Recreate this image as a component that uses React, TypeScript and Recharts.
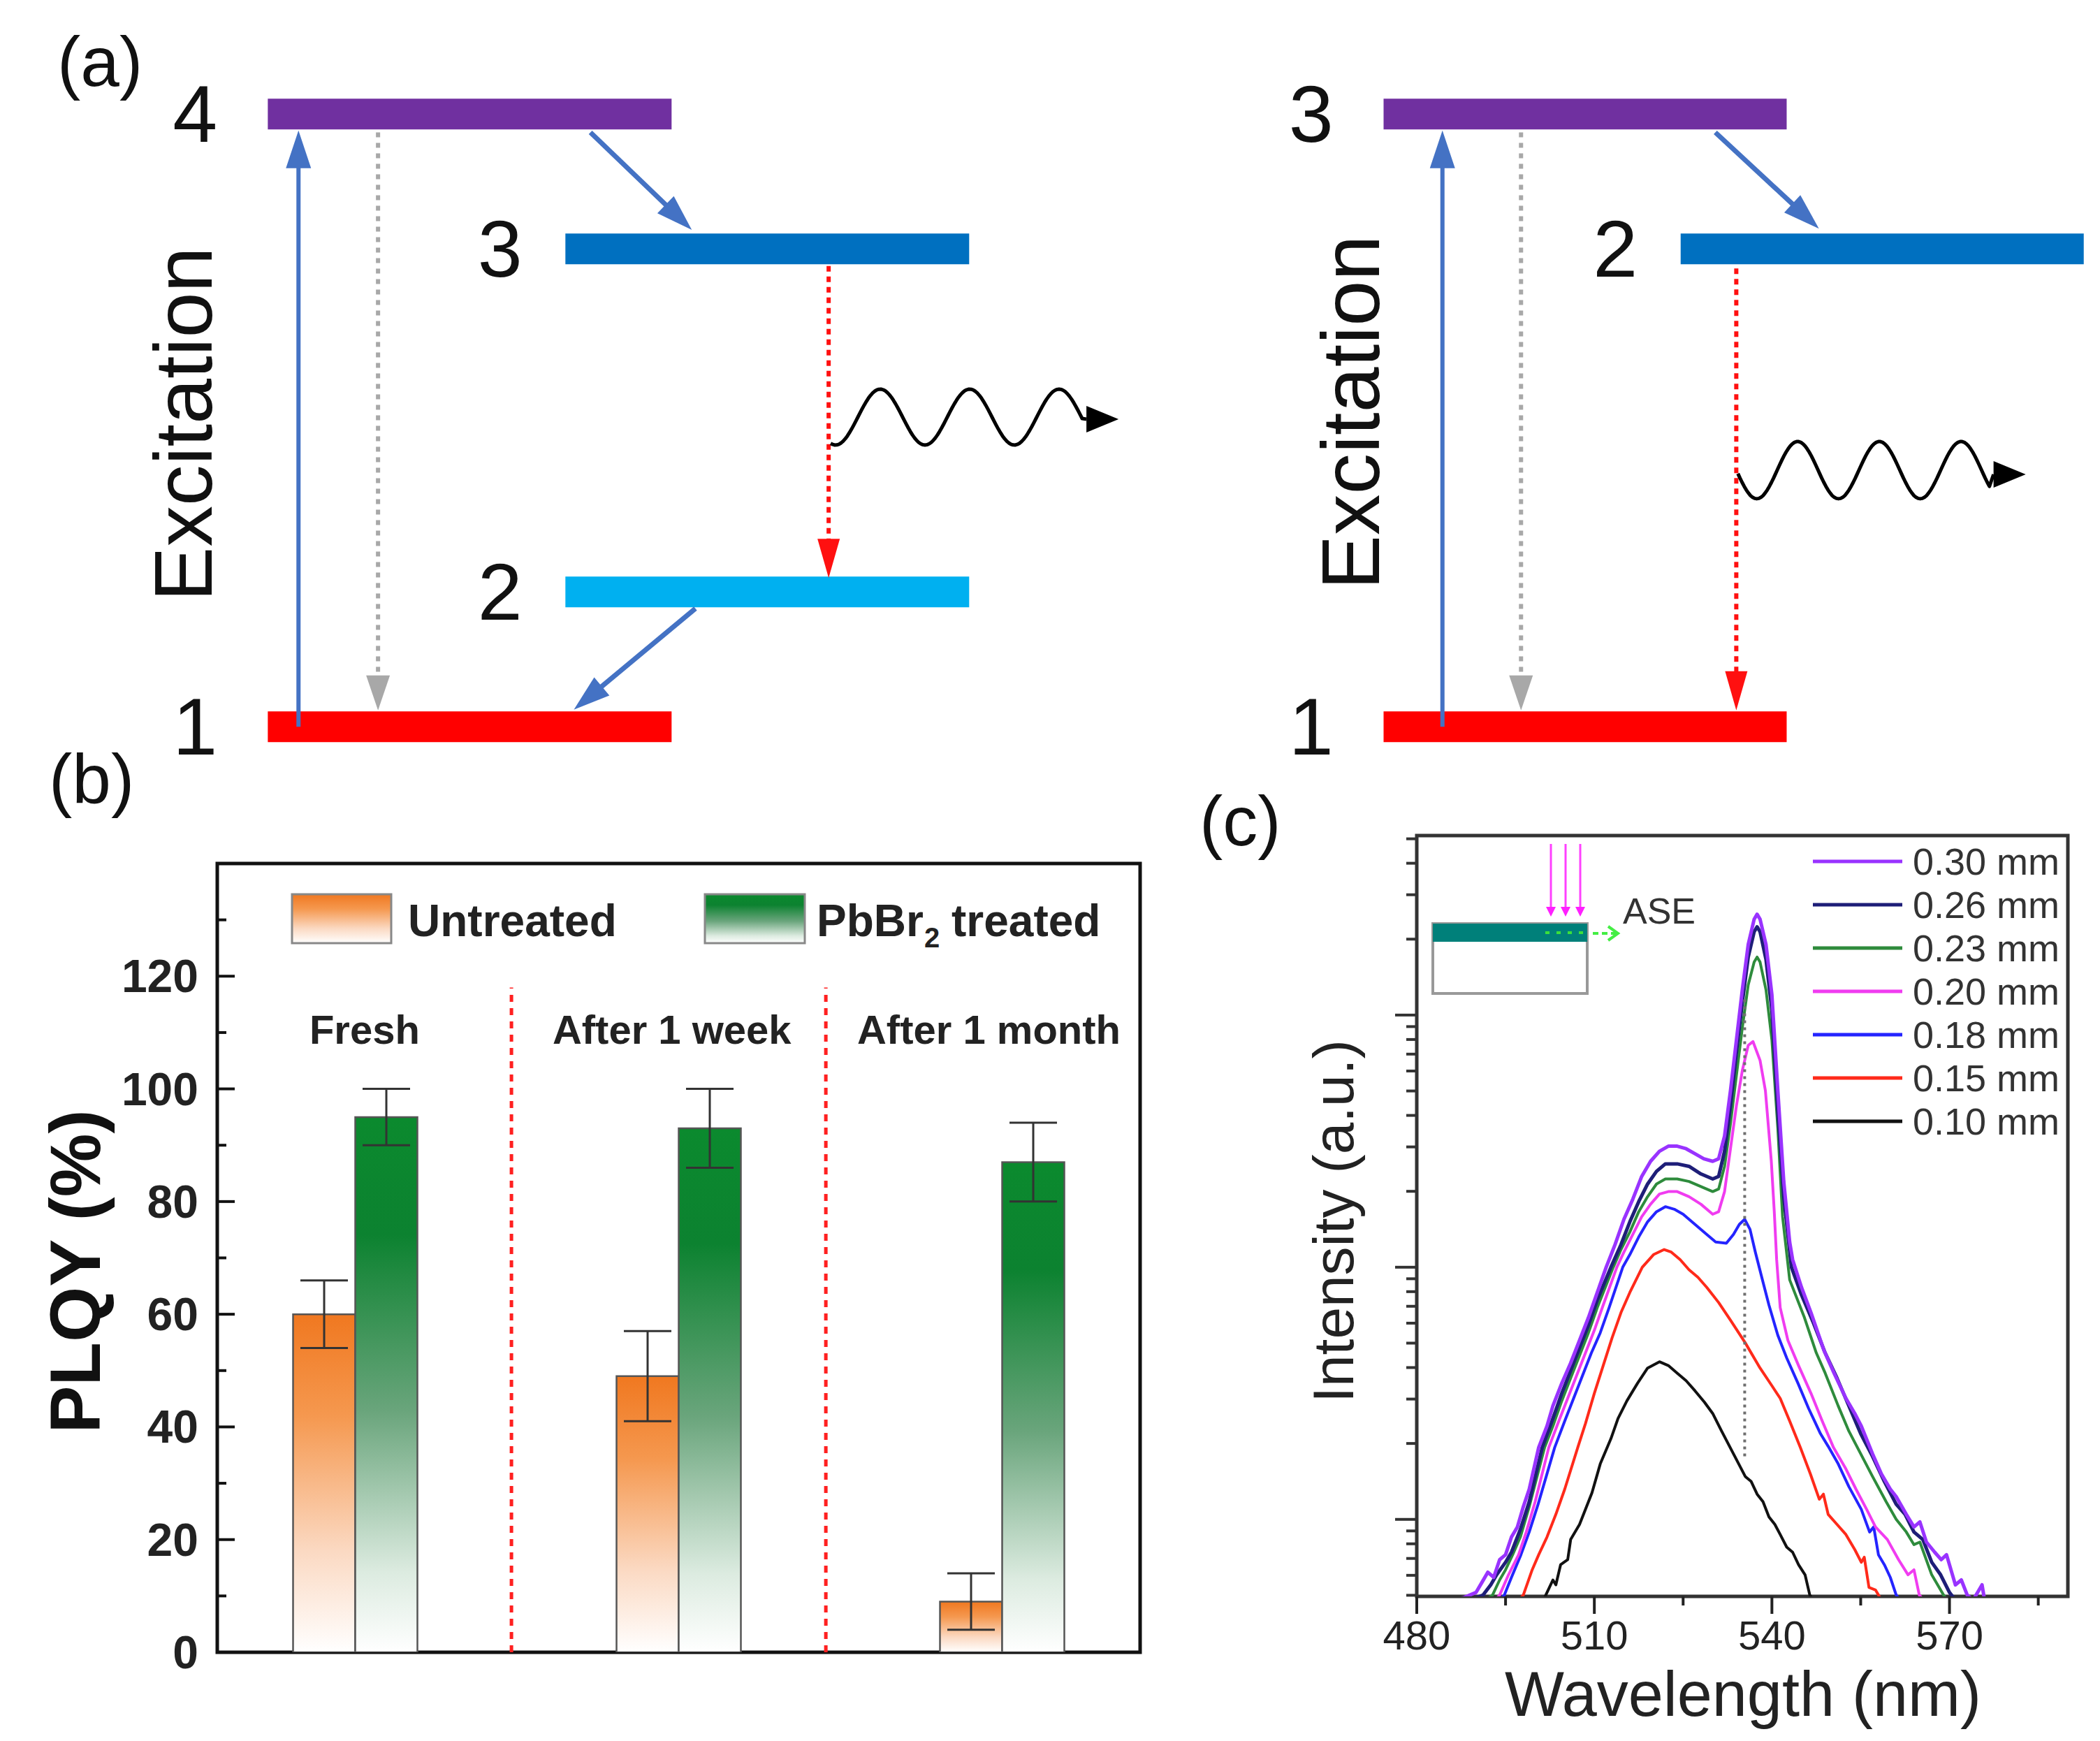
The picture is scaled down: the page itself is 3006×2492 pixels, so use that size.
import React from "react";
import {
  Bar,
  ComposedChart,
  ErrorBar,
  Line,
  LineChart,
  ReferenceArea,
  ReferenceDot,
  ReferenceLine,
  Scatter,
  XAxis,
  YAxis,
} from "recharts";

const FONT = '"Liberation Sans", Arial, Helvetica, sans-serif';

// ---- (a) energy level schemes ----
const fourLevelNames = ["1", "2", "3", "4"];
const fourLevelEnergies = [0, 0.22, 0.78, 1];
const threeLevelNames = ["1", "2", "3"];
const threeLevelEnergies = [0, 0.78, 1];

// ---- (b) PLQY bars ----
const periods = ["Fresh", "After 1 week", "After 1 month"];
const untreatedPlqy = [60, 49, 9];
const untreatedErr = [6, 8, 5];
const treatedPlqy = [95, 93, 87];
const treatedErr = [5, 7, 7];
const plqyTicks = [0, 10, 20, 30, 40, 50, 60, 70, 80, 90, 100, 110, 120, 130];

// ---- (c) ASE spectra (wavelength nm, intensity a.u.) ----
const stripeLabels = ["0.30 mm", "0.26 mm", "0.23 mm", "0.20 mm", "0.18 mm", "0.15 mm", "0.10 mm"];
const wavelengthTicks = [480, 495, 510, 525, 540, 555, 570, 585];
const intensityTicks = [
  500, 600, 700, 800, 900, 1000, 2000, 3000, 4000, 5000, 6000, 7000, 8000, 9000,
  10000, 20000, 30000, 40000, 50000, 60000, 70000, 80000, 90000, 100000, 200000,
  300000, 400000, 500000,
];

const spectrum030: [number, number][] = [
  [486, 479], [488, 490], [490, 513], [491, 562], [492, 617], [493, 589], [494, 692], [495, 724],
  [496, 851], [497, 933], [498, 1122], [499, 1318], [500.6, 1928], [502, 2344], [503, 2818],
  [504.5, 3467], [506, 4169], [507.5, 5129], [509, 6310], [510.5, 7943], [512, 10000], [513.5, 12300],
  [515, 15490], [516.5, 18620], [518, 22910], [519.5, 26300], [521, 28840], [522.5, 30200],
  [524, 30200], [525.5, 29510], [527, 28180], [528.5, 26920], [530, 26300], [531, 26920],
  [532, 33110], [533, 50120], [534, 79430], [535, 125900], [536, 190500], [537, 239900],
  [537.5, 251200], [538, 239900], [539, 190500], [540, 120200], [541, 50120], [542, 21880],
  [543, 12590], [543.5, 10720], [545, 8318], [546.6, 6607], [548.8, 4677], [550.5, 3802],
  [552.5, 3020], [554, 2630], [555.1, 2344], [557, 1820], [558.5, 1514], [560, 1318], [561, 1230],
  [562.7, 1047], [564, 933], [565, 977], [566.1, 813], [567.5, 741], [568.6, 692], [569.5, 724],
  [571, 550], [572, 575], [573, 501], [574, 479], [575.5, 550], [576, 468],
];
const spectrum026: [number, number][] = [
  [487, 457], [489, 479], [491.2, 501], [492.5, 550], [493.5, 603], [495, 676], [496, 741],
  [497.5, 912], [499, 1175], [501.2, 1928], [503, 2512], [504.5, 3162], [506, 3890], [507.5, 4786],
  [509, 5888], [510.5, 7413], [512.8, 10000], [514.5, 12300], [516, 15140], [517.5, 18200],
  [519, 21380], [520.5, 23990], [522, 25700], [524, 25700], [526, 25120], [528, 23440],
  [530, 22390], [531, 22910], [532, 28840], [533, 43650], [534, 70790], [535, 112200],
  [536, 169800], [537, 213800], [537.5, 223900], [538, 213800], [539, 166000], [540, 104700],
  [541, 41690], [542, 19050], [543.3, 10000], [545, 7762], [547, 6026], [549, 4571], [551, 3631],
  [553, 2818], [555, 2188], [557, 1778], [559, 1413], [561, 1148], [562.5, 1047], [564, 891],
  [565.5, 832], [567, 676], [568.5, 603], [570, 513], [571, 479],
];
const spectrum023: [number, number][] = [
  [489, 447], [491, 468], [492.8, 501], [494, 575], [495, 631], [496.2, 724], [497.5, 851],
  [499, 1122], [501.6, 1928], [503, 2344], [504.5, 2951], [506, 3631], [507.5, 4467], [509, 5495],
  [510.5, 6918], [513.2, 10000], [514.5, 11750], [516, 13800], [517.5, 16600], [519, 19050],
  [520.5, 21380], [522, 22390], [524, 22390], [526, 21880], [528, 20890], [530, 19950],
  [531, 20420], [532, 25120], [533, 37150], [534, 57540], [535, 89130], [536, 131800],
  [537, 162200], [537.5, 169800], [538, 162200], [539, 125900], [540, 79430], [541, 35480],
  [541.8, 15850], [543, 8913], [545.5, 6310], [547.5, 4571], [549, 3802], [551.2, 2818],
  [553, 2239], [555, 1820], [557, 1479], [559.3, 1175], [561, 1000], [562.7, 891], [564, 794],
  [565, 813], [567, 603], [568, 550], [569, 501], [570, 468],
];
const spectrum020: [number, number][] = [
  [491, 437], [492.5, 457], [494, 501], [495.5, 603], [497.2, 724], [498.5, 891], [500, 1175],
  [502.3, 1928], [504, 2455], [505.5, 3020], [507, 3715], [508.5, 4571], [510, 5623], [511.5, 7079],
  [513.8, 10000], [515, 11480], [516.5, 13490], [518, 15850], [519.5, 17780], [521, 19500],
  [522.5, 19950], [524, 19950], [526, 19050], [528, 17780], [530, 16220], [531, 16600],
  [532, 19950], [533, 29510], [534, 43650], [535, 60260], [536, 75860], [536.8, 78520],
  [538, 66070], [538.9, 50120], [539.9, 26300], [540.4, 16600], [540.8, 10720], [541.4, 6918],
  [542.7, 5129], [544.5, 4074], [546.6, 3162], [548.5, 2455], [550.4, 1928], [552.5, 1585],
  [554.2, 1318], [556, 1096], [557.5, 933], [559.5, 832], [561.4, 692], [563, 603], [564, 631],
  [564.9, 501], [566, 468],
];
const spectrum018: [number, number][] = [
  [492, 447], [493.5, 468], [494.8, 501], [496, 589], [497.6, 724], [499, 891], [500.5, 1148],
  [503.3, 1928], [505, 2455], [506.5, 3020], [508, 3715], [509.5, 4571], [511, 5495], [512.5, 6918],
  [514.8, 10000], [516, 11220], [517.5, 13180], [519, 15140], [520.5, 16600], [522, 17380],
  [523.5, 16980], [525, 16220], [527, 14790], [529, 13490], [530.5, 12590], [532.3, 12450],
  [533.5, 13490], [534.5, 14790], [535.4, 15490], [536.3, 14130], [537.2, 11480], [538.4, 8913],
  [539.5, 7079], [541, 5370], [542.5, 4365], [544.4, 3467], [546.2, 2754], [548.2, 2188],
  [549.5, 1950], [551.2, 1660], [553, 1349], [555.1, 1096], [556.5, 891], [557.2, 933], [558, 724],
  [559, 661], [560, 589], [561, 501], [562, 468],
];
const spectrum015: [number, number][] = [
  [495, 437], [496.5, 457], [498, 501], [499.5, 631], [500.6, 724], [502, 851], [503.5, 1047],
  [505, 1318], [507.2, 1928], [508.5, 2399], [510, 3162], [511.5, 4074], [513, 5248], [514.5, 6607],
  [516, 7943], [518.1, 10000], [520, 11220], [521.8, 11750], [523, 11480], [524.5, 10720],
  [526, 9772], [527.5, 9120], [529, 8318], [531, 7244], [533, 6166], [535.5, 5012], [538, 3981],
  [540, 3388], [541.4, 3020], [543, 2455], [544.8, 1928], [546.5, 1514], [548, 1202], [548.7, 1259],
  [549.5, 1047], [551, 955], [552.5, 871], [554, 759], [555.1, 676], [555.6, 708], [556.4, 537],
  [557.5, 525], [558.5, 479], [560, 468],
];
const spectrum010: [number, number][] = [
  [501, 457], [501.8, 501], [503, 575], [503.5, 550], [504.3, 661], [505.5, 692], [506, 832],
  [507.5, 955], [509.6, 1274], [511, 1660], [512.8, 2089], [514, 2512], [515.5, 2951], [517.3, 3467],
  [519, 3981], [521, 4217], [522.5, 4074], [524, 3802], [525.5, 3548], [527, 3236], [528.6, 2917],
  [530, 2630], [531.5, 2239], [533.5, 1820], [535.5, 1479], [536.5, 1413], [537.5, 1259],
  [538.5, 1175], [539.5, 1023], [540.5, 955], [541.4, 871], [542.5, 776], [543.5, 741],
  [544.5, 661], [545.6, 603], [546.4, 501], [547.5, 457],
];

const spectra = [spectrum030, spectrum026, spectrum023, spectrum020, spectrum018, spectrum015, spectrum010];
const stripeColors = ["#9933FF", "#1E1E78", "#2E8B3C", "#F03CF0", "#2424FF", "#FF2A1A", "#111111"];

// ---------- helpers ----------
const DIAGRAM_H = 1140;
const E_DOMAIN: [number, number] = [-0.1136, 1.186];
const INNER_SPAN: [number, number] = [0.737, 1.737];
const OUTER_SPAN: [number, number] = [0, 1];

function arrowShape(color: string, width: number, dash?: string, head = 52, half = 17) {
  return (p: any) => {
    const x1 = Number(p.x1), y1 = Number(p.y1), x2 = Number(p.x2), y2 = Number(p.y2);
    const len = Math.hypot(x2 - x1, y2 - y1) || 1;
    const ux = (x2 - x1) / len, uy = (y2 - y1) / len;
    const bx = x2 - ux * head, by = y2 - uy * head;
    return (
      <g>
        <line x1={x1} y1={y1} x2={bx + ux * 2} y2={by + uy * 2} stroke={color} strokeWidth={width} strokeDasharray={dash} />
        <polygon
          points={`${x2},${y2} ${bx - uy * half},${by + ux * half} ${bx + uy * half},${by - ux * half}`}
          fill={color}
        />
      </g>
    );
  };
}

// wavy photon glyph between start and tip
function photonShape(period: number, lead: number, amp: number, lift: number) {
  return (p: any) => {
    const x1 = Number(p.x1), x2 = Number(p.x2), y2 = Number(p.y2);
    const head = 46;
    const mid = y2 - lift;
    let d = "";
    for (let x = x1; x <= x2 - head - 4; x += 3) {
      const y = mid + amp * Math.cos((2 * Math.PI * (x - x1 - lead)) / period);
      d += `${d ? " L" : "M"} ${x.toFixed(1)} ${y.toFixed(1)}`;
    }
    d += ` L ${x2 - head} ${y2}`;
    return (
      <g>
        <path d={d} fill="none" stroke="#000" strokeWidth={5} strokeLinejoin="round" />
        <polygon points={`${x2},${y2} ${x2 - head},${y2 - 19} ${x2 - head},${y2 + 19}`} fill="#000" />
      </g>
    );
  };
}

const levelLabel = (p: any) => (
  <text
    x={p.cx}
    y={p.cy}
    textAnchor="middle"
    dominantBaseline="central"
    fontFamily={FONT}
    fontSize={115}
    fill="#111"
  >
    {p.payload.name}
  </text>
);

const excitationLabel = (p: any) => (
  <text
    x={p.cx}
    y={p.cy}
    transform={`rotate(-90 ${p.cx} ${p.cy})`}
    textAnchor="middle"
    dominantBaseline="central"
    fontFamily={FONT}
    fontSize={117}
    fill="#111"
  >
    Excitation
  </text>
);

function LevelScheme({
  names,
  energies,
  colors,
  domain,
  width,
  children,
}: {
  names: string[];
  energies: number[];
  colors: string[];
  domain: [number, number];
  width: number;
  children?: React.ReactNode;
}) {
  const n = energies.length;
  const labels = names.map((name, i) => {
    const outer = i === 0 || i === n - 1;
    return { name, x: outer ? -0.18 : 0.575, y: energies[i] };
  });
  return (
    <ComposedChart width={width} height={DIAGRAM_H} margin={{ top: 0, right: 0, bottom: 0, left: 0 }}>
      <XAxis type="number" dataKey="x" domain={domain} hide allowDataOverflow />
      <YAxis type="number" dataKey="y" domain={E_DOMAIN} hide allowDataOverflow />
      {energies.map((e, i) => {
        const span = i === 0 || i === n - 1 ? OUTER_SPAN : INNER_SPAN;
        return (
          <ReferenceLine
            key={`lvl-${i}`}
            segment={[
              { x: span[0], y: e },
              { x: span[1], y: e },
            ]}
            stroke={colors[i]}
            strokeWidth={44}
            ifOverflow="visible"
          />
        );
      })}
      {children}
      <Scatter data={labels} dataKey="y" shape={levelLabel} isAnimationActive={false} />
    </ComposedChart>
  );
}

const BLUE = "#4472C4";
const GRAY = "#A8A8A8";
const RED = "#FF1010";

// ---------- (b) ----------
const plqyRows = periods.map((period, i) => ({
  pos: i,
  period,
  untreated: untreatedPlqy[i],
  untreatedErr: untreatedErr[i],
  treated: treatedPlqy[i],
  treatedErr: treatedErr[i],
}));
const PLQY_X: [number, number] = [-0.4255, 2.4276];
const periodLabelX = [0.03, 0.98, 1.96];
const separatorX = [0.484, 1.456];

const plqyTick = (p: any) => {
  const v = Number(p.payload.value);
  const x = Number(p.x), y = Number(p.y);
  const major = v % 20 === 0;
  return (
    <g>
      <line x1={x} y1={y} x2={x + (major ? 25 : 13)} y2={y} stroke="#111" strokeWidth={4} />
      {major && (
        <text
          x={x - 27}
          y={y}
          textAnchor="end"
          dominantBaseline="central"
          fontFamily={FONT}
          fontWeight="bold"
          fontSize={66}
          fill="#222"
        >
          {v}
        </text>
      )}
    </g>
  );
};

// ---------- (c) ----------
const waveTick = (p: any) => {
  const v = Number(p.payload.value);
  const x = Number(p.x), y = Number(p.y);
  const major = v % 30 === 0;
  return (
    <g>
      <line x1={x} y1={y} x2={x} y2={y + (major ? 25 : 13)} stroke="#222" strokeWidth={4} />
      {major && (
        <text x={x} y={y + 76} textAnchor="middle" fontFamily={FONT} fontSize={58} fill="#222">
          {v}
        </text>
      )}
    </g>
  );
};

const intensityTick = (p: any) => {
  const v = Number(p.payload.value);
  const x = Number(p.x), y = Number(p.y);
  const major = Math.abs(Math.log10(v) - Math.round(Math.log10(v))) < 1e-9;
  return <line x1={x - (major ? 31 : 15)} y1={y} x2={x} y2={y} stroke="#333" strokeWidth={4} />;
};

export default function App() {
  return (
    <div
      style={{
        position: "absolute",
        left: 0,
        top: 0,
        width: 3006,
        height: 2492,
        background: "#fff",
        overflow: "hidden",
        fontFamily: FONT,
      }}
    >
      {/* (a) four-level scheme */}
      <div style={{ position: "absolute", left: 25, top: 0 }}>
        <LevelScheme
          names={fourLevelNames}
          energies={fourLevelEnergies}
          colors={["#FF0000", "#00B0F0", "#0070C0", "#7030A0"]}
          domain={[-0.62, 2.15]}
          width={1601}
        >
          <ReferenceLine
            segment={[{ x: 0.076, y: fourLevelEnergies[0] }, { x: 0.076, y: fourLevelEnergies[3] - 0.027 }]}
            shape={arrowShape(BLUE, 6, undefined, 54, 18)}
            ifOverflow="visible"
          />
          <ReferenceLine
            segment={[{ x: 0.273, y: fourLevelEnergies[3] - 0.03 }, { x: 0.273, y: fourLevelEnergies[0] + 0.027 }]}
            shape={arrowShape(GRAY, 6, "7 8", 50, 17)}
            ifOverflow="visible"
          />
          <ReferenceLine
            segment={[{ x: 0.799, y: fourLevelEnergies[3] - 0.03 }, { x: 1.05, y: fourLevelEnergies[2] + 0.031 }]}
            shape={arrowShape(BLUE, 7, undefined, 52, 17)}
            ifOverflow="visible"
          />
          <ReferenceLine
            segment={[{ x: 1.389, y: fourLevelEnergies[2] - 0.028 }, { x: 1.389, y: fourLevelEnergies[1] + 0.023 }]}
            shape={arrowShape(RED, 6, "8 7", 56, 16)}
            ifOverflow="visible"
          />
          <ReferenceLine
            segment={[{ x: 1.059, y: fourLevelEnergies[1] - 0.027 }, { x: 0.758, y: fourLevelEnergies[0] + 0.028 }]}
            shape={arrowShape(BLUE, 7, undefined, 52, 17)}
            ifOverflow="visible"
          />
          <ReferenceLine
            segment={[{ x: 1.394, y: 0.494 }, { x: 2.107, y: 0.502 }]}
            shape={photonShape(128, 7, 40, 3)}
            ifOverflow="visible"
          />
          <ReferenceDot x={-0.209} y={0.494} r={0} ifOverflow="visible" shape={excitationLabel} />
        </LevelScheme>
      </div>

      {/* (a) three-level scheme */}
      <div style={{ position: "absolute", left: 1692, top: 0 }}>
        <LevelScheme
          names={threeLevelNames}
          energies={threeLevelEnergies}
          colors={["#FF0000", "#0070C0", "#7030A0"]}
          domain={[-0.5, 1.76]}
          width={1304}
        >
          <ReferenceLine
            segment={[{ x: 0.146, y: threeLevelEnergies[0] }, { x: 0.146, y: threeLevelEnergies[2] - 0.027 }]}
            shape={arrowShape(BLUE, 6, undefined, 54, 18)}
            ifOverflow="visible"
          />
          <ReferenceLine
            segment={[{ x: 0.341, y: threeLevelEnergies[2] - 0.03 }, { x: 0.341, y: threeLevelEnergies[0] + 0.027 }]}
            shape={arrowShape(GRAY, 6, "7 8", 50, 17)}
            ifOverflow="visible"
          />
          <ReferenceLine
            segment={[{ x: 0.823, y: threeLevelEnergies[2] - 0.03 }, { x: 1.08, y: threeLevelEnergies[1] + 0.033 }]}
            shape={arrowShape(BLUE, 7, undefined, 52, 17)}
            ifOverflow="visible"
          />
          <ReferenceLine
            segment={[{ x: 0.875, y: threeLevelEnergies[1] - 0.032 }, { x: 0.875, y: threeLevelEnergies[0] + 0.027 }]}
            shape={arrowShape(RED, 6, "8 7", 56, 16)}
            ifOverflow="visible"
          />
          <ReferenceLine
            segment={[{ x: 0.879, y: 0.404 }, { x: 1.593, y: 0.412 }]}
            shape={photonShape(117, 27, 41, 6)}
            ifOverflow="visible"
          />
          <ReferenceDot x={-0.081} y={0.513} r={0} ifOverflow="visible" shape={excitationLabel} />
        </LevelScheme>
      </div>

      {/* (b) PLQY */}
      <div style={{ position: "absolute", left: 0, top: 1100 }}>
        <ComposedChart
          width={1700}
          height={1392}
          data={plqyRows}
          margin={{ top: 136, right: 68, bottom: 127, left: 161 }}
          barGap={0}
        >
          <XAxis type="number" dataKey="pos" domain={PLQY_X} hide allowDataOverflow />
          <YAxis
            type="number"
            domain={[0, 140]}
            ticks={plqyTicks}
            interval={0}
            width={150}
            tickSize={0}
            tickMargin={0}
            tickLine={false}
            axisLine={false}
            tick={plqyTick}
            allowDataOverflow
          />
          <Bar dataKey="untreated" barSize={89} fill="url(#gradUntreated)" stroke="#555" strokeWidth={2.5} isAnimationActive={false}>
            <ErrorBar dataKey="untreatedErr" width={34} stroke="#333" strokeWidth={3} />
          </Bar>
          <Bar dataKey="treated" barSize={89} fill="url(#gradTreated)" stroke="#555" strokeWidth={2.5} isAnimationActive={false}>
            <ErrorBar dataKey="treatedErr" width={34} stroke="#333" strokeWidth={3} />
          </Bar>
          {separatorX.map((x) => (
            <ReferenceLine
              key={`sep-${x}`}
              segment={[{ x, y: 0 }, { x, y: 118 }]}
              stroke="#FF2020"
              strokeWidth={5}
              strokeDasharray="10 9"
              ifOverflow="visible"
            />
          ))}
          {periods.map((label, i) => (
            <ReferenceDot
              key={label}
              x={periodLabelX[i]}
              y={110.6}
              r={0}
              ifOverflow="visible"
              shape={(p: any) => (
                <text
                  x={p.cx}
                  y={p.cy}
                  textAnchor="middle"
                  dominantBaseline="central"
                  fontFamily={FONT}
                  fontWeight="bold"
                  fontSize={58}
                  fill="#222"
                >
                  {label}
                </text>
              )}
            />
          ))}
          <ReferenceArea
            x1={PLQY_X[0]}
            x2={PLQY_X[1]}
            y1={0}
            y2={140}
            fill="none"
            stroke="#111"
            strokeWidth={5}
            ifOverflow="visible"
          />
        </ComposedChart>
      </div>

      {/* (c) spectra */}
      <div style={{ position: "absolute", left: 1700, top: 1100 }}>
        <LineChart width={1306} height={1392} margin={{ top: 96, right: 46, bottom: 107, left: 228 }}>
          <XAxis
            type="number"
            dataKey="x"
            domain={[480, 590]}
            ticks={wavelengthTicks}
            interval={0}
            height={100}
            tickSize={0}
            tickMargin={0}
            tickLine={false}
            axisLine={false}
            tick={waveTick}
            allowDataOverflow
          />
          <YAxis
            type="number"
            scale="log"
            domain={[495, 515000]}
            ticks={intensityTicks}
            interval={0}
            width={100}
            tickSize={0}
            tickMargin={0}
            tickLine={false}
            axisLine={false}
            tick={intensityTick}
            allowDataOverflow
          />
          {spectra
            .map((rows, i) => ({ rows, i }))
            .reverse()
            .map(({ rows, i }) => (
              <Line
                key={stripeLabels[i]}
                name={stripeLabels[i]}
                data={rows.map(([x, y]) => ({ x, y }))}
                dataKey="y"
                type="linear"
                stroke={stripeColors[i]}
                strokeWidth={i < 2 ? 5 : 4}
                strokeLinejoin="round"
                dot={false}
                isAnimationActive={false}
              />
            ))}
          <ReferenceLine
            segment={[{ x: 535.4, y: 1780 }, { x: 535.4, y: 117500 }]}
            stroke="#6f6f6f"
            strokeWidth={4}
            strokeDasharray="4 6"
          />
          <ReferenceArea
            x1={480}
            x2={590}
            y1={495}
            y2={515000}
            fill="none"
            stroke="#333"
            strokeWidth={5}
            ifOverflow="visible"
          />
        </LineChart>
      </div>

      {/* text, legends and inset sketch */}
      <svg
        width={3006}
        height={2492}
        style={{ position: "absolute", left: 0, top: 0, pointerEvents: "none" }}
      >
        <defs>
          <linearGradient id="gradUntreated" x1="0" y1="0" x2="0" y2="1">
            <stop offset="0" stopColor="#F07820" />
            <stop offset="0.3" stopColor="#F5984F" />
            <stop offset="0.7" stopColor="#FBD9C2" />
            <stop offset="1" stopColor="#FFFFFF" />
          </linearGradient>
          <linearGradient id="gradTreated" x1="0" y1="0" x2="0" y2="1">
            <stop offset="0" stopColor="#0B8A2E" />
            <stop offset="0.22" stopColor="#0C8230" />
            <stop offset="0.55" stopColor="#6AA57C" />
            <stop offset="0.85" stopColor="#DCEBE0" />
            <stop offset="1" stopColor="#FFFFFF" />
          </linearGradient>
        </defs>

        <g fontFamily={FONT} fill="#111">
          <text x={82} y={123} fontSize={100}>(a)</text>
          <text x={70} y={1150} fontSize={100}>(b)</text>
          <text x={1717} y={1210} fontSize={100}>(c)</text>
        </g>

        {/* (b) titles and legend */}
        <text
          x={108}
          y={1820}
          transform="rotate(-90 108 1820)"
          textAnchor="middle"
          dominantBaseline="central"
          fontFamily={FONT}
          fontWeight="bold"
          fontSize={102}
          fill="#111"
        >
          PLQY (%)
        </text>
        <rect x={418} y={1280} width={142} height={70} fill="url(#gradUntreated)" stroke="#888" strokeWidth={3} />
        <text x={584} y={1340} fontFamily={FONT} fontWeight="bold" fontSize={64} fill="#222">
          Untreated
        </text>
        <rect x={1009} y={1280} width={143} height={70} fill="url(#gradTreated)" stroke="#888" strokeWidth={3} />
        <g fontFamily={FONT} fontWeight="bold" fill="#222">
          <text x={1169} y={1340} fontSize={64}>PbBr</text>
          <text x={1323} y={1356} fontSize={40}>2</text>
          <text x={1362} y={1340} fontSize={64}>treated</text>
        </g>

        {/* (c) titles and legend */}
        <text
          x={1908}
          y={1748}
          transform="rotate(-90 1908 1748)"
          textAnchor="middle"
          dominantBaseline="central"
          fontFamily={FONT}
          fontSize={82}
          fill="#222"
        >
          Intensity (a.u.)
        </text>
        <text x={2495} y={2456} textAnchor="middle" fontFamily={FONT} fontSize={90} fill="#222">
          Wavelength (nm)
        </text>
        {stripeLabels.map((label, i) => (
          <g key={label}>
            <line x1={2595} x2={2723} y1={1233 + 62 * i} y2={1233 + 62 * i} stroke={stripeColors[i]} strokeWidth={5} />
            <text x={2738} y={1252 + 62 * i} fontFamily={FONT} fontSize={54} fill="#333">
              {label}
            </text>
          </g>
        ))}

        {/* inset: stripe excitation sketch */}
        <rect x={2051} y={1322} width={221} height={100} fill="#fff" stroke="#999" strokeWidth={4} />
        <rect x={2051} y={1322} width={221} height={26} fill="#00807A" />
        {[2220, 2241, 2262].map((x) => (
          <g key={x}>
            <line x1={x} y1={1208} x2={x} y2={1298} stroke="#FF40FF" strokeWidth={3} />
            <polygon points={`${x},${1312} ${x - 7},${1298} ${x + 7},${1298}`} fill="#FF20FF" />
          </g>
        ))}
        <line x1={2212} y1={1335} x2={2268} y2={1335} stroke="#3BE03B" strokeWidth={4} strokeDasharray="6 10" />
        <line x1={2280} y1={1336} x2={2314} y2={1336} stroke="#44EE44" strokeWidth={4} strokeDasharray="8 5" />
        <polyline points="2302,1326 2316,1336 2302,1346" fill="none" stroke="#44EE44" strokeWidth={4} />
        <text x={2323} y={1322} fontFamily={FONT} fontSize={52} fill="#333">
          ASE
        </text>
      </svg>
    </div>
  );
}
